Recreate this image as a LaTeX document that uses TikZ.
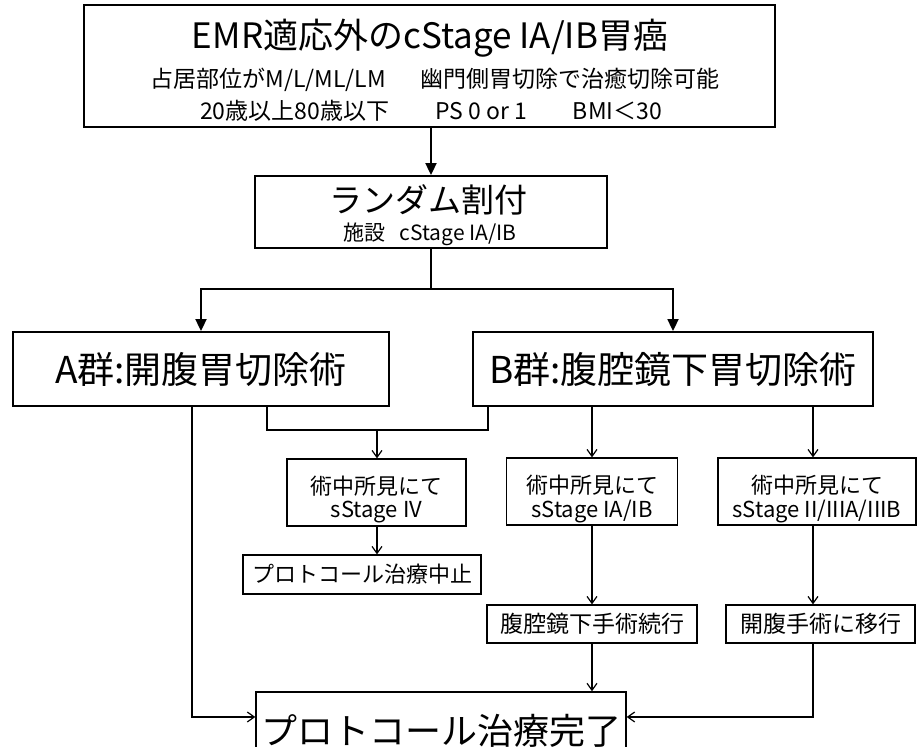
\documentclass[tikz,border=0pt]{standalone}
\usepackage{fontspec}
\setmainfont{Noto Sans CJK JP}
\usetikzlibrary{arrows.meta}
\newcommand{\fsz}[1]{\fontsize{#1}{#1}\selectfont}

\tikzset{
  bigbox/.style={draw, line width=0.9pt, inner sep=0pt},
  smallbox/.style={draw, line width=0.6pt, inner sep=0pt},
  txt/.style={inner sep=0pt},
  bigarrow/.style={line width=0.9pt, -{Triangle[length=6pt,width=5.5pt]}},
  smallarrow/.style={line width=0.6pt, -{Straight Barb[length=3.5pt,width=5pt]}},
  thinline/.style={line width=0.6pt},
  thickline/.style={line width=0.9pt},
}

\begin{document}
\begin{tikzpicture}[x=0.5pt, y=-0.5pt]
    \useasboundingbox (0,0) rectangle (917,747);
    % eligibility
    \node[bigbox, minimum width=345.5pt, minimum height=61pt] (top) at (429.5,66) {};
    \node[txt, font=\fsz{17.5pt}] (top-1) at (430,38) {EMR適応外のcStage IA/IB胃癌};
    \node[txt, font=\fsz{11.5pt}] (top-2) at (435,80) {占居部位がM/L/ML/LM\hspace{1.5em}幽門側胃切除で治癒切除可能};
    \node[txt, font=\fsz{11.5pt}] (top-3) at (431,111) {20歳以上80歳以下\hspace{2em}PS 0 or 1\hspace{2em}BMI＜30};
    % randomisation
    \node[bigbox, minimum width=176pt, minimum height=36pt] (rand) at (431,212) {};
    \node[txt, font=\fsz{16.5pt}] (rand-1) at (428,200) {ランダム割付};
    \node[txt, font=\fsz{10.5pt}] (rand-2) at (430,234) {施設\hspace{0.7em}cStage IA/IB};
    % arms
    \node[bigbox, minimum width=188pt, minimum height=37pt, font=\fsz{18.5pt}] (grpA) at (201,369) {A群:開腹胃切除術};
    \node[bigbox, minimum width=200pt, minimum height=37pt, font=\fsz{18.5pt}] (grpB) at (673,369) {B群:腹腔鏡下胃切除術};
    % findings
    \node[smallbox, minimum width=89.5pt, minimum height=33.5pt] (stIV) at (376.5,492.5) {};
    \node[txt, font=\fsz{11pt}] (stIV-1) at (376.5,486) {術中所見にて};
    \node[txt, font=\fsz{11pt}] (stIV-2) at (376.5,512) {sStage IV};
    \node[smallbox, minimum width=85.5pt, minimum height=33.5pt] (stI) at (592,491.5) {};
    \node[txt, font=\fsz{11pt}] (stI-1) at (592,485) {術中所見にて};
    \node[txt, font=\fsz{11pt}] (stI-2) at (592,512) {sStage IA/IB};
    \node[smallbox, minimum width=99pt, minimum height=33.5pt] (stII) at (817,491.5) {};
    \node[txt, font=\fsz{11pt}] (stII-1) at (817,485) {術中所見にて};
    \node[txt, font=\fsz{11pt}] (stII-2) at (817,512) {sStage II/IIIA/IIIB};
    % outcomes
    \node[smallbox, minimum width=119pt, minimum height=19.5pt, font=\fsz{11pt}] (stop) at (362,574.5) {プロトコール治療中止};
    \node[smallbox, minimum width=105pt, minimum height=19pt, font=\fsz{11.5pt}] (lapa) at (592,624) {腹腔鏡下手術続行};
    \node[smallbox, minimum width=94.5pt, minimum height=19pt, font=\fsz{11.5pt}] (open) at (820.5,624) {開腹手術に移行};
    \node[smallbox, line width=0.7pt, minimum width=185pt, minimum height=39pt, font=\fsz{18pt}] (done) at (441,731) {プロトコール治療完了};

    \coordinate (split) at (431,289);
    \coordinate (joinIV) at (377,430);
    \coordinate (colA1) at (192,0);
    \coordinate (colA2) at (267,0);
    \coordinate (colB0) at (488,0);
    \coordinate (colB2) at (813,0);
    \coordinate (rowdone) at (0,717);

    \draw[bigarrow] (top.south -| rand.north) -- (rand.north);
    \draw[thickline] (rand.south) -- (split);
    \draw[bigarrow] (split) -| (grpA.north);
    \draw[bigarrow] (split) -| (grpB.north);

    \draw[thinline] (grpA.south -| colA2) |- (joinIV) -| (grpB.south -| colB0);
    \draw[smallarrow] (joinIV) -- (joinIV |- stIV.north);
    \draw[smallarrow] (grpA.south -| colA1) |- (done.west |- rowdone);
    \draw[smallarrow] (grpB.south -| stI.north) -- (stI.north);
    \draw[smallarrow] (grpB.south -| colB2) -- (stII.north -| colB2);
    \draw[smallarrow] (stIV.south -| joinIV) -- (stop.north -| joinIV);
    \draw[smallarrow] (stI.south) -- (lapa.north);
    \draw[smallarrow] (stII.south -| colB2) -- (open.north -| colB2);
    \draw[smallarrow] (lapa.south) -- (lapa.south |- done.north);
    \draw[smallarrow] (open.south -| colB2) |- (done.east |- rowdone);
\end{tikzpicture}
\end{document}
